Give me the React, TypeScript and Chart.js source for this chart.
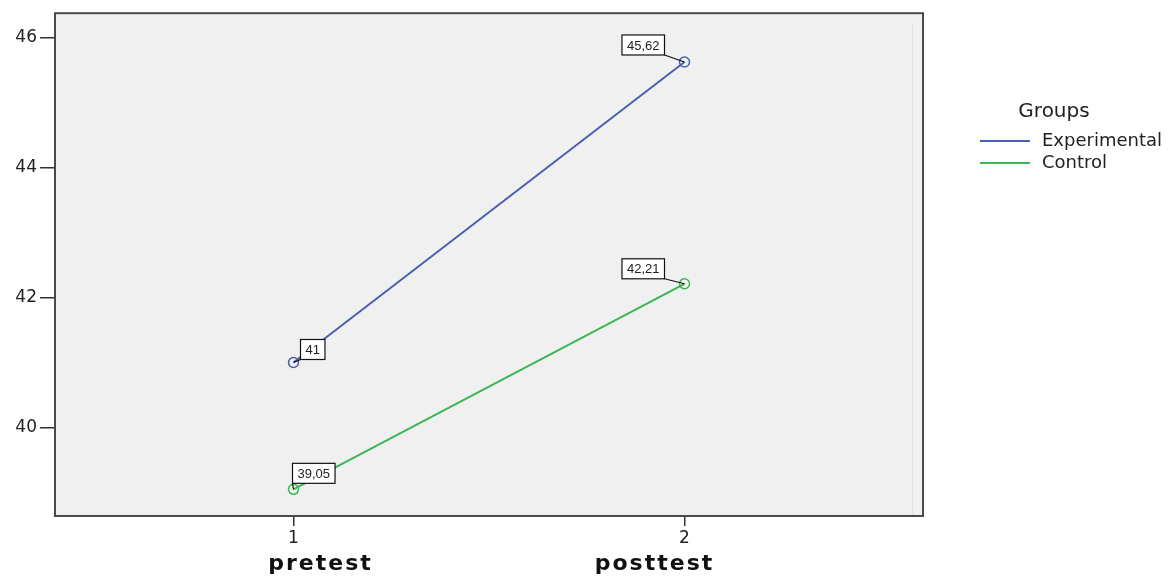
import React, { useEffect, useRef } from "react";
import { Chart, registerables } from "chart.js";

Chart.register(...registerables);

const categories = ["pretest", "posttest"];
const xTicks = [1, 2];
const yTicks = [40, 42, 44, 46];
const experimental = [41, 45.62];
const control = [39.05, 42.21];
const seriesNames = ["Experimental", "Control"];
const seriesColors = ["#4a5fb0", "#3cb653"];

// label box placement relative to the point
const labelPlacement = [
  [
    { dx: 7, dy: -3, side: "left" },
    { dx: -20, dy: -7, side: "right" },
  ],
  [
    { dx: -1, dy: -6, side: "left" },
    { dx: -20, dy: -5, side: "right" },
  ],
];

const fmt = (v: number) => String(v).replace(".", ",");

export default function App() {
  const ref = useRef<HTMLCanvasElement | null>(null);

  useEffect(() => {
    document.body.style.margin = "0";
    const canvas = ref.current!;
    const series = [experimental, control];

    const framePlugin = {
      id: "frame",
      beforeDraw(chart: any) {
        const { ctx, chartArea: a } = chart;
        ctx.save();
        ctx.fillStyle = "#ffffff";
        ctx.fillRect(0, 0, chart.width, chart.height);
        ctx.fillStyle = "#f0f0f0";
        ctx.fillRect(a.left, a.top, a.right - a.left, a.bottom - a.top);
        ctx.strokeStyle = "#e2e2e2";
        ctx.lineWidth = 1;
        ctx.beginPath();
        ctx.moveTo(a.right - 10.5, a.top + 12);
        ctx.lineTo(a.right - 10.5, a.bottom);
        ctx.stroke();
        ctx.restore();
      },
      afterDraw(chart: any) {
        const { ctx, chartArea: a } = chart;
        ctx.save();
        ctx.strokeStyle = "#4a4a4a";
        ctx.lineWidth = 2;
        ctx.strokeRect(a.left, a.top, a.right - a.left, a.bottom - a.top);

        // category labels
        const xs = chart.scales.x;
        ctx.fillStyle = "#111";
        ctx.font = "bold 22px 'DejaVu Sans'";
        (ctx as any).letterSpacing = "2px";
        ctx.textAlign = "center";
        ctx.textBaseline = "middle";
        const catOffsets = [27, -30];
        categories.forEach((c, i) => {
          ctx.fillText(c, xs.getPixelForValue(xTicks[i]) + catOffsets[i], 564);
        });
        (ctx as any).letterSpacing = "0px";

        // legend
        ctx.textAlign = "center";
        ctx.font = "20px 'DejaVu Sans'";
        ctx.fillStyle = "#222";
        ctx.fillText("Groups", 1054, 112);
        ctx.textAlign = "left";
        ctx.font = "18px 'DejaVu Sans'";
        seriesNames.forEach((n, i) => {
          const y = 141 + i * 22;
          ctx.strokeStyle = seriesColors[i];
          ctx.lineWidth = 2;
          ctx.beginPath();
          ctx.moveTo(980, y);
          ctx.lineTo(1030, y);
          ctx.stroke();
          ctx.fillStyle = "#222";
          ctx.fillText(n, 1042, y);
        });
        ctx.restore();
      },
      afterDatasetsDraw(chart: any) {
        const { ctx } = chart;
        ctx.save();
        ctx.font = "13px 'Liberation Sans'";
        ctx.textBaseline = "middle";
        ctx.textAlign = "center";
        series.forEach((vals, si) => {
          const meta = chart.getDatasetMeta(si);
          vals.forEach((v, i) => {
            const pt = meta.data[i];
            const p = labelPlacement[si][i];
            const text = fmt(v);
            const w = ctx.measureText(text).width + 10;
            const h = 20;
            const ax = pt.x + p.dx;
            const ay = pt.y + p.dy;
            const left = p.side === "left" ? ax : ax - w;
            const top = ay - h;
            ctx.strokeStyle = "#111";
            ctx.lineWidth = 1.2;
            ctx.beginPath();
            ctx.moveTo(ax, ay);
            ctx.lineTo(pt.x, pt.y);
            ctx.stroke();
            ctx.fillStyle = "#ffffff";
            ctx.fillRect(left, top, w, h);
            ctx.strokeRect(left, top, w, h);
            ctx.fillStyle = "#222";
            ctx.fillText(text, left + w / 2, top + h / 2 + 1);
          });
        });
        ctx.restore();
      },
    };

    const chart = new Chart(canvas, {
      type: "line",
      data: {
        datasets: series.map((vals, si) => ({
          label: seriesNames[si],
          data: vals.map((v, i) => ({ x: xTicks[i], y: v })),
          borderColor: seriesColors[si],
          backgroundColor: "transparent",
          borderWidth: 2,
          pointRadius: 5,
          pointBorderWidth: 1.5,
          pointBorderColor: seriesColors[si],
          pointBackgroundColor: "transparent",
          fill: false,
          tension: 0,
        })),
      },
      options: {
        responsive: false,
        animation: false,
        devicePixelRatio: 1,
        layout: { padding: { left: 0, top: 10, right: 250, bottom: 0 } },
        plugins: {
          legend: { display: false },
          tooltip: { enabled: false },
        },
        scales: {
          x: {
            type: "linear",
            min: 0.39,
            max: 2.61,
            afterBuildTicks: (s: any) => {
              s.ticks = xTicks.map((v) => ({ value: v }));
            },
            afterFit: (s: any) => {
              s.height = 62;
            },
            grid: {
              drawOnChartArea: false,
              drawTicks: true,
              tickLength: 10,
              color: "#333",
              lineWidth: 1.5,
            },
            border: { display: false },
            ticks: {
              color: "#222",
              font: { family: "'DejaVu Sans'", size: 17 },
              padding: 2,
              maxRotation: 0,
              callback: (v: any) => String(v),
            },
          },
          y: {
            type: "linear",
            min: 38.64,
            max: 46.37,
            afterBuildTicks: (s: any) => {
              s.ticks = yTicks.map((v) => ({ value: v }));
            },
            afterFit: (s: any) => {
              s.width = 55;
            },
            grid: {
              drawOnChartArea: false,
              drawTicks: true,
              tickLength: 15,
              color: "#333",
              lineWidth: 1.5,
            },
            border: { display: false },
            ticks: {
              color: "#222",
              font: { family: "'DejaVu Sans'", size: 17 },
              padding: 3,
              callback: (v: any) => String(v),
            },
          },
        },
      },
      plugins: [framePlugin],
    });
    return () => chart.destroy();
  }, []);

  return <canvas ref={ref} width={1173} height={578} style={{ display: "block", width: 1173, height: 578 }} />;
}
